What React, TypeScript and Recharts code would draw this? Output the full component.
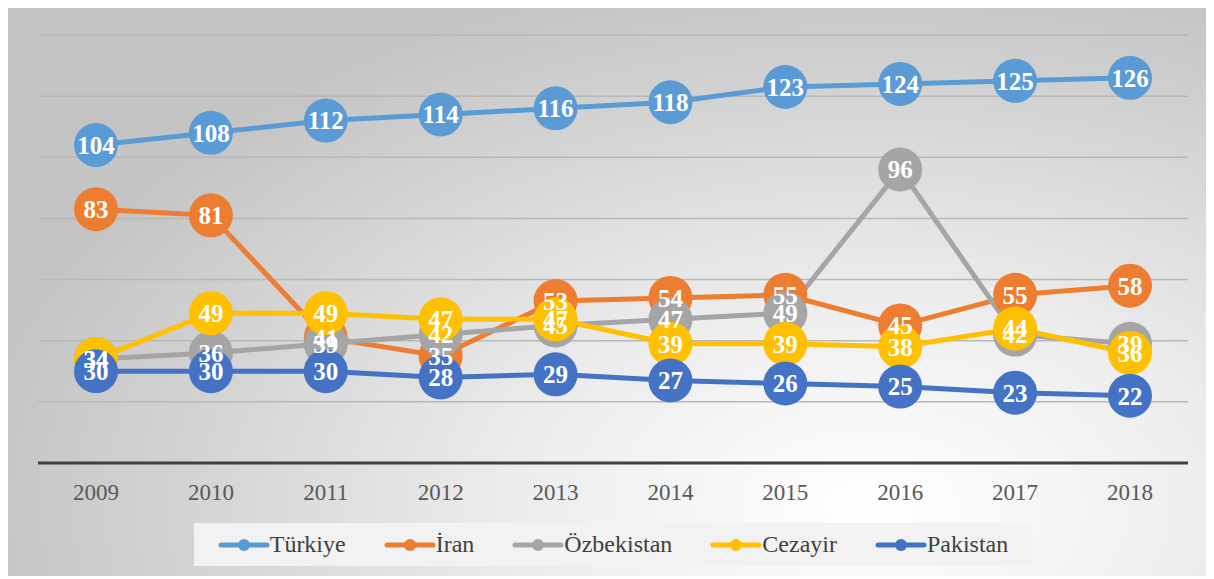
import { LineChart, Line, XAxis, YAxis, CartesianGrid, Legend, LabelList } from "recharts";

const years = ["2009", "2010", "2011", "2012", "2013", "2014", "2015", "2016", "2017", "2018"];
const turkiye = [104, 108, 112, 114, 116, 118, 123, 124, 125, 126];
const iran = [83, 81, 41, 35, 53, 54, 55, 45, 55, 58];
const ozbekistan = [34, 36, 39, 42, 45, 47, 49, 96, 42, 39];
const cezayir = [34, 49, 49, 47, 47, 39, 39, 38, 44, 36];
const pakistan = [30, 30, 30, 28, 29, 27, 26, 25, 23, 22];
const yTicks = [0, 20, 40, 60, 80, 100, 120, 140];

const series = [
  { key: "tr", name: "Türkiye", color: "#5B9BD5", values: turkiye },
  { key: "ir", name: "İran", color: "#ED7D31", values: iran },
  { key: "uz", name: "Özbekistan", color: "#A5A5A5", values: ozbekistan },
  { key: "dz", name: "Cezayir", color: "#FFC000", values: cezayir },
  { key: "pk", name: "Pakistan", color: "#4472C4", values: pakistan },
];

const data = years.map((year, i) => {
  const row: Record<string, string | number> = { year };
  series.forEach(s => { row[s.key] = s.values[i]; });
  return row;
});

const serif = "'Liberation Serif', 'Times New Roman', serif";

function LegendBox() {
  return (
    <div style={{ width: 838, height: 43, margin: "0 auto", background: "#f2f2f2", display: "flex",
      alignItems: "center", justifyContent: "center", gap: 38, fontFamily: serif, fontSize: 24, color: "#404040" }}>
      {series.map(s => (
        <div key={s.key} style={{ display: "flex", alignItems: "center" }}>
          <svg width={52} height={20}>
            <line x1={3} y1={10} x2={49} y2={10} stroke={s.color} strokeWidth={5} strokeLinecap="round" />
            <circle cx={26} cy={10} r={6} fill={s.color} />
          </svg>
          <span>{s.name}</span>
        </div>
      ))}
    </div>
  );
}

export default function App() {
  return (
    <div style={{ width: 1198, height: 571, marginTop: -3,
      background: "radial-gradient(ellipse 75% 95% at 72% 88%, #ffffff 0%, #ececec 40%, #d4d4d4 75%, #c4c4c4 100%)" }}>
      <LineChart width={1198} height={571} data={data} margin={{ top: 30, right: 18, left: 30, bottom: 10 }}>
        <CartesianGrid horizontal vertical={false} stroke="#b8b8b8" strokeWidth={1.5} />
        <XAxis dataKey="year" height={60} padding={{ left: 58, right: 58 }} tickLine={false} tickSize={0} tickMargin={21}
          axisLine={{ stroke: "#404040", strokeWidth: 3 }}
          tick={{ fill: "#595959", fontFamily: serif, fontSize: 23 }} />
        <YAxis hide domain={[0, 140]} ticks={yTicks} />
        <Legend verticalAlign="bottom" content={() => <LegendBox />} />
        {series.map(s => (
          <Line key={s.key} dataKey={s.key} name={s.name} stroke={s.color} strokeWidth={5} isAnimationActive={false}
            dot={{ r: 22, fill: s.color, stroke: s.color, strokeWidth: 0 }} activeDot={false} />
        ))}
        {series.map(s => (
          <Line key={s.key + "-lbl"} dataKey={s.key} stroke="none" dot={false} activeDot={false}
            legendType="none" isAnimationActive={false}>
            <LabelList dataKey={s.key} position="center" fill="#ffffff"
              style={{ fontFamily: serif, fontSize: 25, fontWeight: 700 }} />
          </Line>
        ))}
      </LineChart>
    </div>
  );
}
